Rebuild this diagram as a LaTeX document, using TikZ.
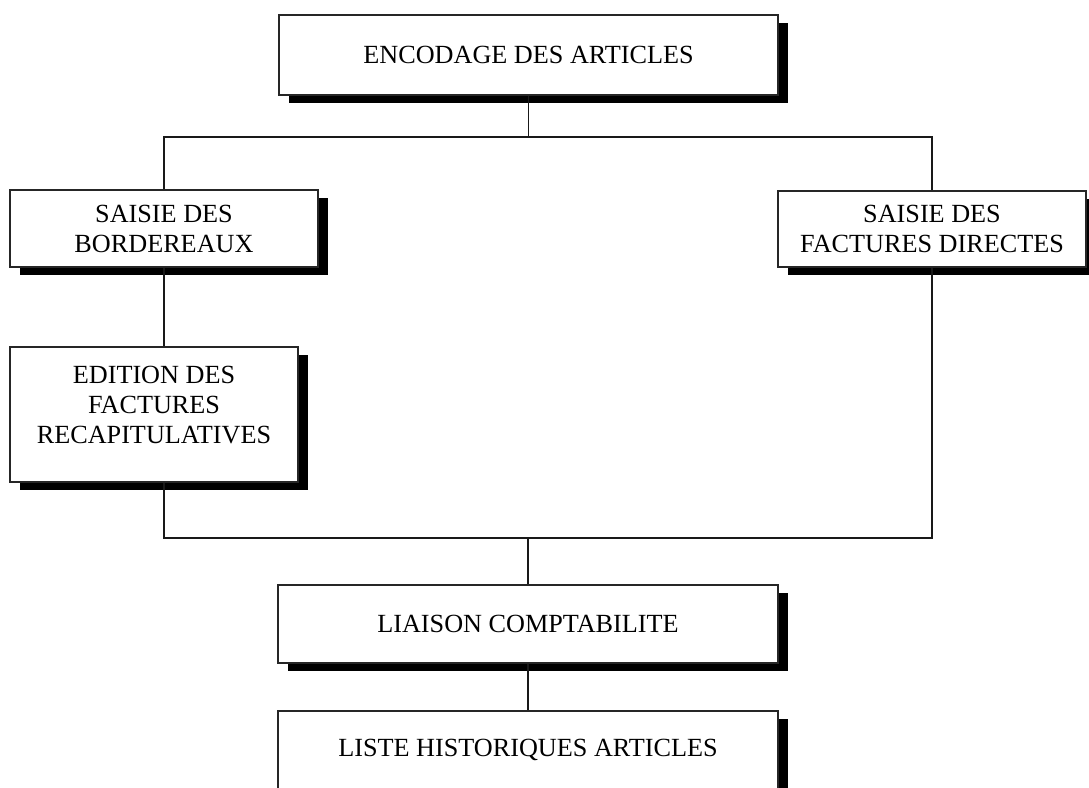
\documentclass[tikz,border=0pt]{standalone}
\usepackage{fontspec}
\setmainfont{Liberation Serif}
\usepackage{tikz}
\usetikzlibrary{positioning, shadows}

\begin{document}
\begin{tikzpicture}[x=1pt, y=-1pt,
        etape/.style={rectangle, draw=black!85, line width=1.4pt, fill=white, inner sep=0pt, align=center,
            drop shadow={shadow xshift=10pt, shadow yshift=-8pt, fill=black, opacity=1},
            font=\fontsize{26.2}{30}\selectfont},
        lien/.style={line width=1.4pt, black!90}]
                    \useasboundingbox (0,0) rectangle (1089,787);

                    \node[etape, minimum width=499pt, minimum height=80pt] (enc) at (528.5, 55) {ENCODAGE DES ARTICLES};
                    \node[etape, minimum width=308pt, minimum height=77pt] (saisieB) at (164, 228.5) {SAISIE DES\\BORDEREAUX};
                    \node[etape, minimum width=308pt, minimum height=76pt] (saisieF) at (932, 229) {SAISIE DES\\FACTURES DIRECTES};
                    \node[etape, minimum width=288pt, minimum height=135pt] (edition) at (154, 414.5) {EDITION DES\\FACTURES\\RECAPITULATIVES\\[-10pt]\mbox{}};
                    \node[etape, minimum width=500pt, minimum height=78pt] (liaison) at (528, 624) {LIAISON COMPTABILITE};
                    \node[etape, minimum width=500pt, minimum height=78pt] (liste) at (528, 750) {LISTE HISTORIQUES ARTICLES};

                    \coordinate (haut) at (0, 137);
                    \coordinate (bas) at (0, 538);

                    \draw[lien] (enc.south) -- (enc.south |- haut);
                    \draw[lien] (saisieB.north) |- (saisieF.north |- haut) -- (saisieF.north);
                    \draw[lien] (saisieB.south) -- (saisieB.south |- edition.north);
                    \draw[lien] (saisieB.south |- edition.south) |- (saisieF.south |- bas) -- (saisieF.south);
                    \draw[lien] (liaison.north) -- (liaison.north |- bas);
                    \draw[lien] (liaison.south) -- (liste.north);
                \end{tikzpicture}
\end{document}
